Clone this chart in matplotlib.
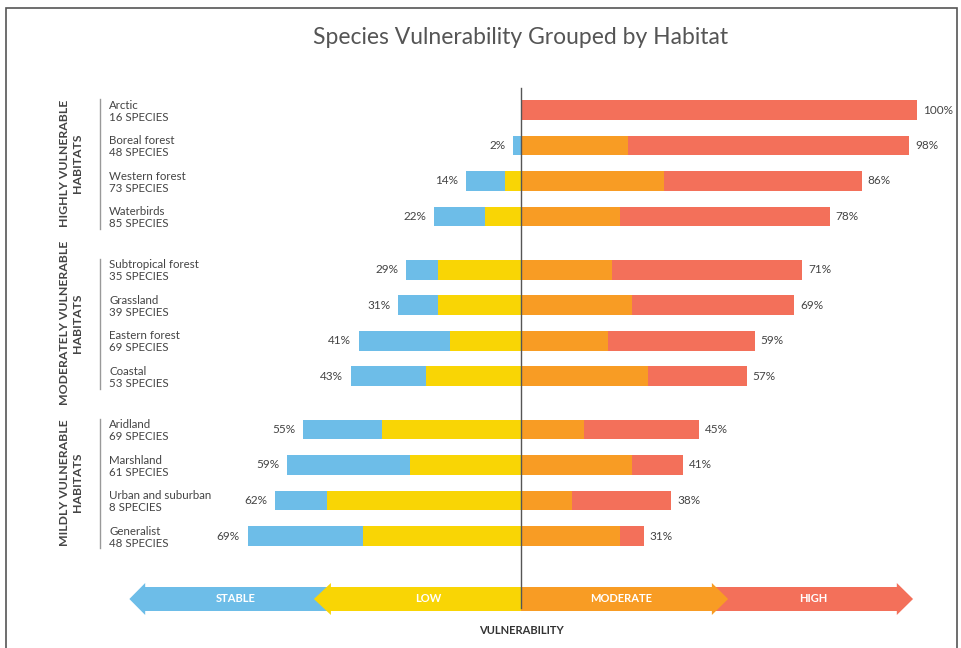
import numpy as np
import matplotlib.pyplot as plt
from matplotlib.patches import Polygon, Rectangle

habitats = ["Arctic", "Boreal forest", "Western forest", "Waterbirds",
            "Subtropical forest", "Grassland", "Eastern forest", "Coastal",
            "Aridland", "Marshland", "Urban and suburban", "Generalist"]
species = [16, 48, 73, 85, 35, 39, 69, 53, 69, 61, 8, 48]
stable = np.array([0, 2, 10, 13, 8, 10, 23, 19, 20, 31, 13, 29])
low = np.array([0, 0, 4, 9, 21, 21, 18, 24, 35, 28, 49, 40])
moderate = np.array([0, 27, 36, 25, 23, 28, 22, 32, 16, 28, 13, 25])
high = np.array([100, 71, 50, 53, 48, 41, 37, 25, 29, 13, 25, 6])
groups = ["HIGHLY VULNERABLE\nHABITATS", "MODERATELY VULNERABLE\nHABITATS",
          "MILDLY VULNERABLE\nHABITATS"]
group_size = 4
levels = ["STABLE", "LOW", "MODERATE", "HIGH"]

c_stable, c_low, c_mod, c_high = "#6DBDE8", "#F9D505", "#F89C24", "#F3705A"
txt = "#444444"
plt.rcParams['font.family'] = ['Lato', 'DejaVu Sans']

# y positions: one slot per habitat, extra half slot between groups
ypos = np.array([i + 0.5 * (i // group_size) for i in range(len(habitats))])

fig = plt.figure(figsize=(9.62, 6.48), dpi=100)
ax = fig.add_axes([0, 0, 1, 1])
ax.set_xlim(-521 / 3.96, (962 - 521) / 3.96)
ax.set_ylim((648 - 110) / 35.5, -110 / 35.5)
ax.axis("off")

h = 0.56
left_tot = stable + low
right_tot = moderate + high
ax.barh(ypos, stable, left=-left_tot, height=h, color=c_stable, zorder=2)
ax.barh(ypos, low, left=-low, height=h, color=c_low, zorder=2)
ax.barh(ypos, moderate, left=0, height=h, color=c_mod, zorder=2)
ax.barh(ypos, high, left=moderate, height=h, color=c_high, zorder=2)

for y, l, r in zip(ypos, left_tot, right_tot):
    if l > 0:
        ax.text(-l - 2, y, f"{l}%", ha="right", va="center", fontsize=8.5, color=txt)
    ax.text(r + 1.5, y, f"{r}%", ha="left", va="center", fontsize=8.5, color=txt)

# habitat labels
for y, name, n in zip(ypos, habitats, species):
    ax.text(-104, y - 0.14, name, ha="left", va="center", fontsize=8.3, color=txt)
    ax.text(-104, y + 0.2, f"{n} SPECIES", ha="left", va="center", fontsize=8.3,
            color=txt)

# group brackets and labels
for g, label in enumerate(groups):
    ys = ypos[g * group_size:(g + 1) * group_size]
    ax.plot([-106.3, -106.3], [ys[0] - 0.3, ys[-1] + 0.35], color="#999999", lw=1)
    ax.text(-113.6, ys.mean(), label, rotation=90, ha="center", va="center",
            multialignment="center", fontsize=8.8, fontweight="bold", color=txt,
            linespacing=1.2)

# center line
ax.plot([0, 0], [-0.62, 14.03], color="#555555", lw=1, zorder=6)

# scale arrows at bottom
ya = (599 - 110) / 35.5
bw = 12 / 35.5
hw = 16 / 35.5


def arrow(x0, x1, tip, color, zorder):
    # body from x0 to x1, head from x1 to tip
    pts = [(x0, ya - bw), (x1, ya - bw), (x1, ya - hw), (tip, ya),
           (x1, ya + hw), (x1, ya + bw), (x0, ya + bw)]
    ax.add_patch(Polygon(pts, closed=True, color=color, zorder=zorder, lw=0))


arrow(-48.2, -94.9, -98.9, c_stable, 3)
arrow(0, -48.0, -52.3, c_low, 4)
arrow(48.2, 94.9, 99.0, c_high, 3)
arrow(0, 48.2, 52.3, c_mod, 4)

for x, lab in zip([-72.0, -23.5, 25.3, 73.7], levels):
    ax.text(x, ya, lab, ha="center", va="center", fontsize=8,
            fontweight="bold", color="white", zorder=7)

ax.text(0, (630 - 110) / 35.5, "VULNERABILITY", ha="center", va="center",
        fontsize=8, fontweight="bold", color="#333333")

fig.text(521 / 962, 1 - 38 / 648, "Species Vulnerability Grouped by Habitat",
         ha="center", va="center", fontsize=16.5, color="#555555")

fig.patches.append(Rectangle((6 / 962, -0.05), 951 / 962, 1.05 - 8 / 648,
                             transform=fig.transFigure, fill=False,
                             edgecolor="#555555", lw=1.2))

fig.savefig("out.png", dpi=100)
